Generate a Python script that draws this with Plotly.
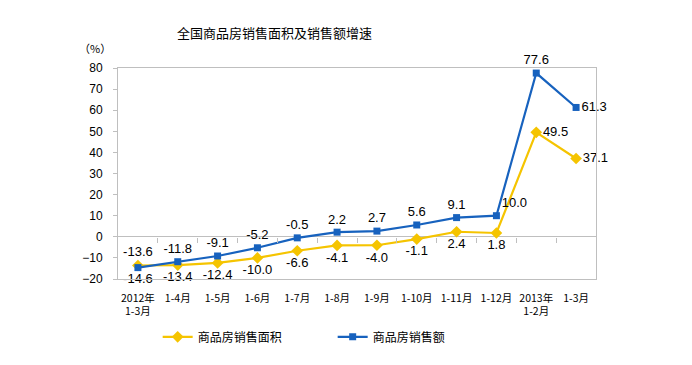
import plotly.graph_objects as go

categories = ["2012年<br>1-3月", "1-4月", "1-5月", "1-6月", "1-7月", "1-8月", "1-9月",
              "1-10月", "1-11月", "1-12月", "2013年<br>1-2月", "1-3月"]
area_growth = [-13.6, -13.4, -12.4, -10.0, -6.6, -4.1, -4.0, -1.1, 2.4, 1.8, 49.5, 37.1]
sales_growth = [-14.6, -11.8, -9.1, -5.2, -0.5, 2.2, 2.7, 5.6, 9.1, 10.0, 77.6, 61.3]
area_pos = ["top center"] + ["bottom center"] * 9 + ["middle right", "middle right"]
sales_pos = ["bottom center"] + ["top center"] * 8 + ["top right", "top center", "middle right"]
yticks = [-20, -10, 0, 10, 20, 30, 40, 50, 60, 70, 80]

BLUE = "#1762BE"
YELLOW = "#F5C400"
xs = list(range(len(categories)))

fig = go.Figure()
fig.add_trace(go.Scatter(
    x=xs, y=area_growth, name="商品房销售面积", mode="lines+markers+text",
    line=dict(color=YELLOW, width=2.2),
    marker=dict(symbol="diamond", size=9, color=YELLOW),
    text=[f"{v:.1f}" for v in area_growth], textposition=area_pos,
    textfont=dict(family="Liberation Sans, Arial", size=13, color="#000"),
    cliponaxis=False,
))
fig.add_trace(go.Scatter(
    x=xs, y=sales_growth, name="商品房销售额", mode="lines+markers+text",
    line=dict(color=BLUE, width=2.2),
    marker=dict(symbol="square", size=7, color=BLUE),
    text=[f"{v:.1f}" for v in sales_growth], textposition=sales_pos,
    textfont=dict(family="Liberation Sans, Arial", size=13, color="#000"),
    cliponaxis=False,
))
# invisible trace to carry the zero-line tick axis
fig.add_trace(go.Scatter(x=xs, y=sales_growth, xaxis="x2", mode="markers",
                         marker=dict(opacity=0), showlegend=False, hoverinfo="skip"))

fig.update_layout(
    width=684, height=357,
    margin=dict(l=110, r=96, t=60, b=86),
    paper_bgcolor="white", plot_bgcolor="white",
    font=dict(family="Liberation Sans, Noto Sans CJK SC", color="#000"),
    showlegend=True,
    legend=dict(orientation="h", x=0.083, y=-0.274, xanchor="left", yanchor="middle",
                entrywidth=130, entrywidthmode="pixels",
                font=dict(family="Noto Sans CJK SC", size=12)),
    xaxis=dict(range=[-0.5, 11.5], tickvals=xs, ticktext=categories,
               showgrid=False, zeroline=False, showline=True, mirror=True,
               linecolor="#BFBFBF", linewidth=1, ticks="outside", ticklen=9,
               tickcolor="rgba(0,0,0,0)",
               tickfont=dict(family="Noto Sans CJK SC", size=10.5)),
    xaxis2=dict(range=[-0.5, 11.5], overlaying="x", anchor="free", position=0.2,
                tickvals=[i + 0.5 for i in xs[:-1]], ticks="outside", ticklen=5,
                tickcolor="#BFBFBF", showticklabels=False, showgrid=False,
                zeroline=False, showline=False),
    yaxis=dict(range=[-20, 80], tickvals=yticks, showgrid=False,
               zeroline=True, zerolinecolor="#BFBFBF", zerolinewidth=1,
               showline=True, mirror=True, linecolor="#BFBFBF", linewidth=1,
               ticks="outside", ticklen=4, tickcolor="#BFBFBF",
               ticklabelstandoff=8,
               tickfont=dict(family="Liberation Sans", size=12)),
    annotations=[
        dict(text="全国商品房销售面积及销售额增速", xref="paper", yref="paper",
             x=0.328, y=1.166, xanchor="center", yanchor="middle", showarrow=False,
             font=dict(family="Noto Sans CJK SC", size=13, color="#000")),
        dict(text="（%）", xref="paper", yref="paper",
             x=-0.01, y=1.095, xanchor="right", yanchor="middle", showarrow=False,
             font=dict(family="Noto Sans CJK SC", size=11, color="#000")),
    ],
)

fig.write_html("out.html")
